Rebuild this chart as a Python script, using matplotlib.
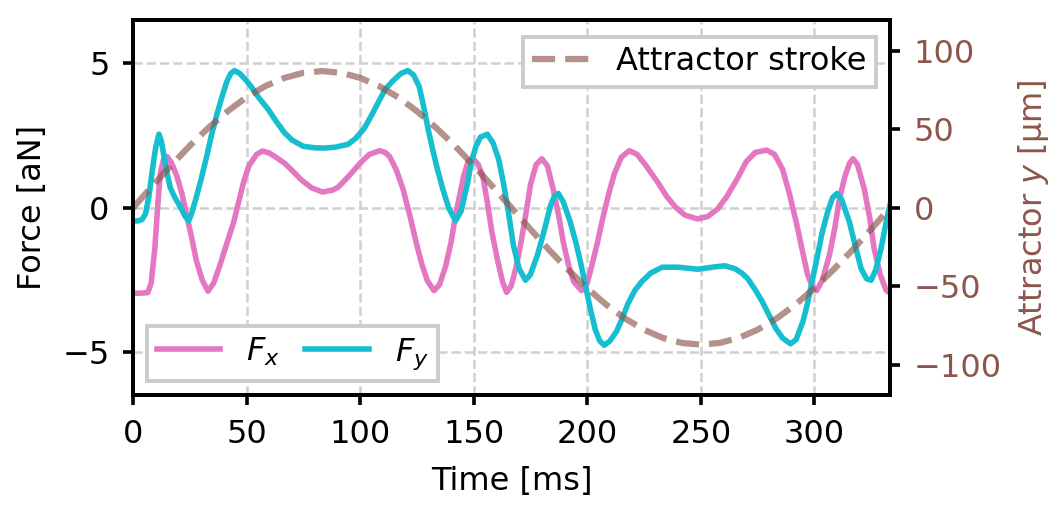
import matplotlib
matplotlib.use("Agg")
import matplotlib.pyplot as plt

# values
fx_t = [0, 3, 6.5, 8, 9.6, 11, 12, 13.5, 15, 17, 19.3, 21.5, 23.7, 26, 28, 30.5, 33, 35.5,
        38.2, 41, 44.3, 46.5, 48.7, 51, 54.4, 57, 60, 63, 66.7, 70, 74, 78.5, 83.5, 88,
        90.4, 95, 100, 104, 108.5, 111, 113, 116, 118.9, 122, 124.6, 127, 129.5, 132.5,
        135, 137.7, 140, 142, 144, 145.6, 147.5, 149.6, 152, 154, 156, 158, 160.5, 162.7,
        164.5, 166.5, 168.5, 170.6, 173, 175, 177.5, 180, 182.5, 185, 187.5, 189.5, 192,
        194, 197.5, 200, 202, 204.5, 207, 209.5, 212, 215, 218.5, 222, 226, 231, 235,
        238.6, 243, 248.5, 253, 257.5, 261.5, 266, 270, 274, 279, 282.5, 286, 289, 292,
        294.5, 297, 299, 301, 303.5, 306.6, 309, 311, 313.5, 315.5, 317, 319, 322, 324.5,
        326.3, 329, 331.6, 333.3]
fx = [-2.95, -2.95, -2.93, -2.6, -1.4, 0.2, 1.2, 1.7, 1.78, 1.55, 1.1, 0.5, -0.27, -1.1,
      -1.86, -2.5, -2.88, -2.6, -2.0, -1.3, -0.5, 0.2, 0.9, 1.45, 1.85, 1.97, 1.9, 1.75,
      1.55, 1.3, 0.98, 0.7, 0.55, 0.62, 0.72, 1.1, 1.55, 1.85, 1.98, 1.92, 1.78, 1.3, 0.65,
      -0.3, -1.17, -1.9, -2.5, -2.86, -2.65, -2.0, -1.2, -0.27, 0.5, 1.1, 1.6, 1.72, 1.5,
      1.1, 0.2, -0.83, -1.8, -2.55, -2.92, -2.7, -2.1, -1.3, -0.2, 0.8, 1.5, 1.7, 1.45,
      0.65, -0.3, -1.2, -2.05, -2.55, -2.86, -2.6, -2.0, -1.2, -0.3, 0.5, 1.2, 1.75, 1.98,
      1.85, 1.45, 0.89, 0.4, 0.05, -0.25, -0.38, -0.3, -0.03, 0.4, 1.0, 1.6, 1.92, 2.0,
      1.85, 1.34, 0.5, -0.48, -1.4, -2.3, -2.7, -2.86, -2.5, -1.65, -0.7, 0.3, 1.1, 1.55,
      1.7, 1.5, 0.65, -0.4, -1.4, -2.3, -2.85, -2.95]

fy_t = [0, 2, 4, 5.5, 7, 8.5, 10, 11.4, 12.5, 13.6, 15, 16.4, 18.5, 20.6, 23, 24.5, 26, 28,
        30, 32.5, 34.5, 36.8, 39, 41.2, 43, 44.7, 47, 50, 52, 55.5, 59.6, 63, 66.7, 70, 75,
        80, 84, 89, 94.7, 98, 101.8, 105, 108, 111, 114.5, 118, 121, 123.5, 126, 128, 130,
        132, 134, 136.4, 139, 142, 144.5, 147.4, 149, 151, 153, 156, 158.5, 161, 163, 165,
        167.5, 170, 172.8, 175, 178, 181, 183.8, 185.5, 187.3, 189.5, 192.5, 195, 197, 199,
        201.3, 203.5, 205.5, 207.5, 210, 213, 215.5, 218, 221, 224, 228, 233, 240, 248.7,
        255, 260.5, 265, 268, 270.6, 273.7, 277, 280, 283, 286, 289.5, 292, 295, 297, 299,
        301, 303.5, 306, 308, 310, 312, 315.4, 318, 320.6, 323, 325, 327, 329.4, 331.6,
        333.3]
fy = [-0.45, -0.45, -0.4, -0.2, 0.4, 1.3, 2.1, 2.55, 2.3, 1.8, 1.2, 0.7, 0.35, 0.07, -0.3,
      -0.45, -0.15, 0.41, 1.0, 1.8, 2.5, 3.2, 3.8, 4.35, 4.65, 4.75, 4.65, 4.4, 4.2, 3.8,
      3.4, 3.0, 2.6, 2.35, 2.13, 2.08, 2.07, 2.1, 2.2, 2.4, 2.75, 3.2, 3.65, 4.1, 4.4, 4.65,
      4.75, 4.6, 4.2, 3.5, 2.7, 2.0, 1.35, 0.65, 0.0, -0.45, -0.1, 0.9, 1.6, 2.13, 2.45,
      2.55, 2.25, 1.68, 0.9, 0.0, -1.3, -2.1, -2.5, -2.3, -1.65, -0.8, 0.07, 0.4, 0.5, 0.2,
      -0.48, -1.2, -1.86, -2.6, -3.47, -4.2, -4.6, -4.75, -4.6, -4.26, -3.8, -3.3, -2.85,
      -2.55, -2.25, -2.05, -2.05, -2.12, -2.05, -2.0, -2.1, -2.25, -2.44, -2.8, -3.23,
      -3.7, -4.16, -4.5, -4.7, -4.55, -3.92, -3.3, -2.55, -1.8, -0.83, -0.1, 0.35, 0.5,
      0.3, -0.48, -1.3, -2.1, -2.45, -2.5, -2.15, -1.4, -0.5, 0.1]

stroke_t = [0, 8.3, 16.7, 25, 33.3, 41.7, 50, 58.3, 66.7, 75, 83.3, 91.7, 100, 108.3,
            116.7, 125, 133.3, 141.7, 150, 158.3, 166.7, 175, 183.3, 191.7, 200, 208.3,
            216.7, 225, 233.3, 241.7, 250, 258.3, 266.7, 275, 283.3, 291.7, 300, 308.3,
            316.7, 325, 333.3]
stroke_y = [0, 13.6, 26.9, 39.5, 51.1, 61.5, 70.4, 77.5, 82.7, 85.9, 87, 85.9, 82.7, 77.5,
            70.4, 61.5, 51.1, 39.5, 26.9, 13.6, 0, -13.6, -26.9, -39.5, -51.1, -61.5, -70.4,
            -77.5, -82.7, -85.9, -87, -85.9, -82.7, -77.5, -70.4, -61.5, -51.1, -39.5,
            -26.9, -13.6, 0]

plt.rcParams["font.family"] = ["DejaVu Sans"]
plt.rcParams["mathtext.fontset"] = "dejavusans"
plt.rcParams["font.size"] = 23

fig = plt.figure(figsize=(10.49, 5.09), dpi=100)
ax = fig.add_axes([0.1268, 0.224, 0.7216, 0.7367])
ax2 = ax.twinx()

l1, = ax.plot(fx_t, fx, color="#e377c2", lw=4.0, label="$F_x$")
l2, = ax.plot(fy_t, fy, color="#17becf", lw=4.0, label="$F_y$")
l3, = ax2.plot(stroke_t, stroke_y, color="#8c564b", lw=4.5, ls="--", alpha=0.65,
               label="Attractor stroke")

ax.set_xlim(0, 333.3)
ax.set_ylim(-6.47, 6.5)
ax2.set_ylim(-119, 119.5)
ax.set_xticks([0, 50, 100, 150, 200, 250, 300])
ax.set_yticks([-5, 0, 5])
ax2.set_yticks([-100, -50, 0, 50, 100])

ax.grid(True, ls="--", color="#d0d0d0", lw=1.8)
ax.set_axisbelow(True)
ax.set_xlabel("Time [ms]", labelpad=12)
ax.set_ylabel("Force [aN]", labelpad=10)
ax2.set_ylabel("Attractor $y$ [µm]", color="#8c564b", labelpad=10)
ax2.tick_params(axis="y", labelcolor="#8c564b")

for a in (ax, ax2):
    for s in a.spines.values():
        s.set_linewidth(2.8)
    a.tick_params(width=2.6, length=7, pad=10)

leg1 = ax.legend(handles=[l1, l2], loc="lower left", ncol=2, fancybox=False,
                 framealpha=1, edgecolor="#cccccc", handlelength=2.0,
                 handletextpad=0.8, columnspacing=0.8, borderpad=0.3,
                 borderaxespad=0, bbox_to_anchor=(0.0185, 0.037))
leg1.get_frame().set_linewidth(2.8)
ax.add_artist(leg1)
leg2 = ax2.legend(handles=[l3], loc="upper right", fancybox=False, framealpha=1,
                  edgecolor="#cccccc", handlelength=2.0, handletextpad=0.6,
                  borderpad=0.3, borderaxespad=0, bbox_to_anchor=(0.981, 0.955))
leg2.get_frame().set_linewidth(2.8)

fig.savefig("out.png", dpi=100)
